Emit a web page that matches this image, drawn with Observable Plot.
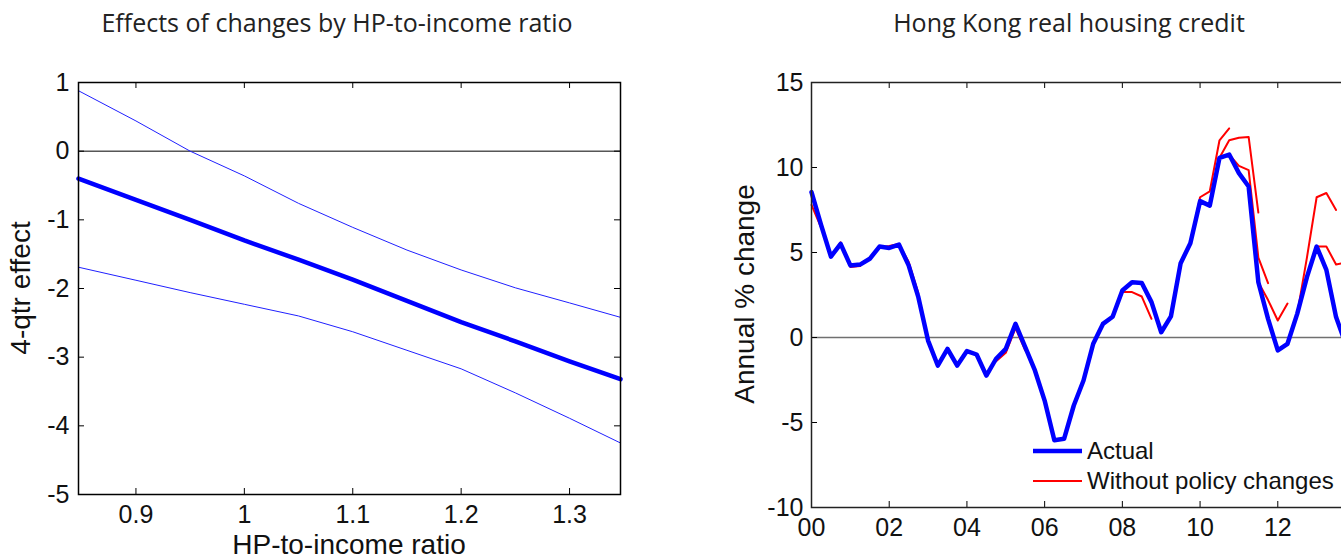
<!DOCTYPE html>
<html>
<head>
<meta charset="utf-8">
<script src="https://cdn.jsdelivr.net/npm/d3@7"></script>
<script src="https://cdn.jsdelivr.net/npm/@observablehq/plot@0.6"></script>
<style>
  html, body { margin: 0; padding: 0; background: #fff; overflow: hidden; }
  #wrap { position: relative; width: 1341px; height: 560px; overflow: hidden; font-family: "Liberation Sans", Arial, sans-serif; }
  .panel { position: absolute; top: 0; }
  .title { position: absolute; font-family: "Open Sans", sans-serif; font-size: 25px; line-height: 34px; color: #222; white-space: nowrap; transform: translateX(-50%); }
  .lab { position: absolute; font-size: 28px; line-height: 28px; color: #111; white-space: nowrap; }
  .rot { transform-origin: 0 0; }
  .leg { position: absolute; font-size: 24px; line-height: 30px; color: #111; white-space: nowrap; }
</style>
</head>
<body>
<div id="wrap"></div>
<script>
// ---------- Left panel data: effect by HP-to-income ratio ----------
const hpRatio   = [0.847, 0.9, 0.95, 1.0, 1.05, 1.1, 1.15, 1.2, 1.25, 1.3, 1.347];
const effect    = [-0.40, -0.71, -1.00, -1.30, -1.58, -1.87, -2.18, -2.49, -2.77, -3.06, -3.32];
const upperBand = [0.88, 0.44, 0.00, -0.36, -0.76, -1.11, -1.44, -1.73, -1.99, -2.21, -2.42];
const lowerBand = [-1.69, -1.88, -2.06, -2.23, -2.40, -2.63, -2.90, -3.17, -3.52, -3.89, -4.25];
const leftXTicks = [0.9, 1.0, 1.1, 1.2, 1.3];
const leftYTicks = [-5, -4, -3, -2, -1, 0, 1];

// ---------- Right panel data: Hong Kong real housing credit ----------
const startYear = 2000;           // 2000Q1
const quarterStep = 0.25;
const actual = [8.55, 6.59, 4.76, 5.51, 4.24, 4.29, 4.63, 5.35, 5.27, 5.47,
                4.24, 2.37, -0.18, -1.65, -0.67, -1.65, -0.80, -1.00, -2.24, -1.25,
                -0.67, 0.80, -0.57, -1.94, -3.71, -6.04, -5.96, -4.00, -2.53, -0.37,
                0.80, 1.22, 2.76, 3.25, 3.20, 2.08, 0.31, 1.24, 4.37, 5.55,
                8.02, 7.76, 10.57, 10.76, 9.67, 8.88, 3.25, 1.10, -0.76, -0.37,
                1.39, 3.55, 5.35, 3.98, 1.20, -0.40];
// counterfactual paths "without policy changes": start (years after 2000) and quarterly values
const redStarts = [0, 0.5, 1.75, 4.75, 7.75, 9.75, 10.5, 10.75, 11.5, 12.5, 12.75];
const redValues = [
  [7.8, 6.45],
  [4.8, 5.6, 4.15, 4.2],
  [5.3, 5.38, 5.5, 4.45, 2.6],
  [-1.4, -0.9, 0.55, -0.75],
  [1.22, 2.67, 2.67, 2.41, 1.1],
  [5.55, 8.25, 8.6, 11.6, 12.3],
  [10.57, 11.6, 11.75, 11.8, 7.35],
  [10.76, 10.1, 9.85, 4.7, 3.2],
  [3.25, 2.2, 1.0, 2.0],
  [1.39, 4.7, 8.25, 8.5, 7.5],
  [3.55, 5.35, 5.35, 4.3, 4.4]
];
const rightXTicks = [2000, 2002, 2004, 2006, 2008, 2010, 2012];
const rightYTicks = [-10, -5, 0, 5, 10, 15];

const seriesNames = ["Actual", "Without policy changes"];
const titles = ["Effects of changes by HP-to-income ratio", "Hong Kong real housing credit"];
const axisLabels = {leftX: "HP-to-income ratio", leftY: "4-qtr effect", rightY: "Annual % change"};

// ---------- build tables ----------
const leftRows = hpRatio.map((x, i) => ({x, mid: effect[i], up: upperBand[i], lo: lowerBand[i]}));
const actualRows = actual.map((v, i) => ({t: startYear + i * quarterStep, v}));
const redRows = [];
redStarts.forEach((s, k) => redValues[k].forEach((v, j) => redRows.push({seg: k, t: startYear + s + j * quarterStep, v})));

const wrap = document.getElementById("wrap");
const fontStyle = {fontFamily: '"Liberation Sans", Arial, sans-serif', fontSize: "25px", color: "#111", background: "transparent", overflow: "visible"};

// ---------- left panel ----------
const L = {w: 660, h: 560, ml: 78, mr: 40, mt: 82, mb: 66};
const LiW = L.w - L.ml - L.mr, LiH = L.h - L.mt - L.mb;
const left = Plot.plot({
  width: L.w, height: L.h,
  marginLeft: L.ml, marginRight: L.mr, marginTop: L.mt, marginBottom: L.mb,
  style: fontStyle,
  x: {domain: [0.847, 1.347]},
  y: {domain: [-5, 1]},
  marks: [
    Plot.ruleY([0], {stroke: "black", strokeWidth: 1}),
    Plot.line(leftRows, {x: "x", y: "up", stroke: "#2020ff", strokeWidth: 1}),
    Plot.line(leftRows, {x: "x", y: "lo", stroke: "#2020ff", strokeWidth: 1}),
    Plot.line(leftRows, {x: "x", y: "mid", stroke: "#0000ff", strokeWidth: 4.5}),
    Plot.ruleX(leftXTicks, {x: d => d, insetTop: LiH - 6, stroke: "black"}),
    Plot.ruleX(leftXTicks, {x: d => d, insetBottom: LiH - 6, stroke: "black"}),
    Plot.ruleY(leftYTicks, {y: d => d, insetRight: LiW - 6, stroke: "black"}),
    Plot.ruleY(leftYTicks, {y: d => d, insetLeft: LiW - 6, stroke: "black"}),
    Plot.frame({stroke: "black", strokeWidth: 1.5}),
    Plot.axisX(leftXTicks, {tickSize: 0, tickPadding: 11, tickFormat: d => String(d), label: null}),
    Plot.axisY(leftYTicks, {tickSize: 0, tickPadding: 9, tickFormat: d => String(d), label: null})
  ]
});
left.classList.add("panel");
left.style.left = "0px";
wrap.appendChild(left);

// ---------- right panel ----------
const R = {x0: 700, w: 680, h: 560, ml: 111, mr: 25, mt: 82, mb: 53};
const RiW = R.w - R.ml - R.mr, RiH = R.h - R.mt - R.mb;
const right = Plot.plot({
  width: R.w, height: R.h,
  marginLeft: R.ml, marginRight: R.mr, marginTop: R.mt, marginBottom: R.mb,
  style: fontStyle,
  x: {domain: [2000, 2014]},
  y: {domain: [-10, 15]},
  marks: [
    Plot.ruleY([0], {stroke: "#707070", strokeWidth: 1.3}),
    Plot.line(redRows, {x: "t", y: "v", z: "seg", stroke: "#ff0000", strokeWidth: 2}),
    Plot.line(actualRows, {x: "t", y: "v", stroke: "#0000ff", strokeWidth: 4.5}),
    Plot.ruleX(rightXTicks, {x: d => d, insetTop: RiH - 6, stroke: "black"}),
    Plot.ruleX(rightXTicks, {x: d => d, insetBottom: RiH - 6, stroke: "black"}),
    Plot.ruleY(rightYTicks, {y: d => d, insetRight: RiW - 6, stroke: "black"}),
    Plot.ruleY(rightYTicks, {y: d => d, insetLeft: RiW - 6, stroke: "black"}),
    Plot.frame({stroke: "#222", strokeWidth: 1.5}),
    Plot.axisX(rightXTicks, {tickSize: 0, tickPadding: 11, tickFormat: d => String(d % 100).padStart(2, "0"), label: null}),
    Plot.axisY(rightYTicks, {tickSize: 0, tickPadding: 8, tickFormat: d => String(d), label: null})
  ]
});
right.classList.add("panel");
right.style.left = R.x0 + "px";
wrap.appendChild(right);

// ---------- titles and axis labels ----------
function addDiv(cls, text, css) {
  const d = document.createElement("div");
  d.className = cls;
  d.textContent = text;
  Object.assign(d.style, css);
  wrap.appendChild(d);
  return d;
}
addDiv("title", titles[0], {left: "337px", top: "5px"});
addDiv("title", titles[1], {left: "1069px", top: "5px"});
addDiv("lab", axisLabels.leftX, {left: "349px", top: "531px", transform: "translateX(-50%)"});
addDiv("lab rot", axisLabels.leftY, {left: "7px", top: "288px", transform: "rotate(-90deg) translateX(-50%)"});
addDiv("lab rot", axisLabels.rightY, {left: "731px", top: "294px", transform: "rotate(-90deg) translateX(-50%)"});

// ---------- legend ----------
const legendItems = [
  {name: seriesNames[0], color: "#0000ff", width: 4.5, y: 451},
  {name: seriesNames[1], color: "#ff0000", width: 2, y: 481}
];
const legSvg = d3.create("svg").attr("width", 60).attr("height", 60)
  .style("position", "absolute").style("left", "1030px").style("top", "430px");
legSvg.selectAll("line").data(legendItems).join("line")
  .attr("x1", 3).attr("x2", 52)
  .attr("y1", d => d.y - 430).attr("y2", d => d.y - 430)
  .attr("stroke", d => d.color).attr("stroke-width", d => d.width);
wrap.appendChild(legSvg.node());
legendItems.forEach(it => addDiv("leg", it.name, {left: "1087px", top: (it.y - 15) + "px"}));
</script>
</body>
</html>
